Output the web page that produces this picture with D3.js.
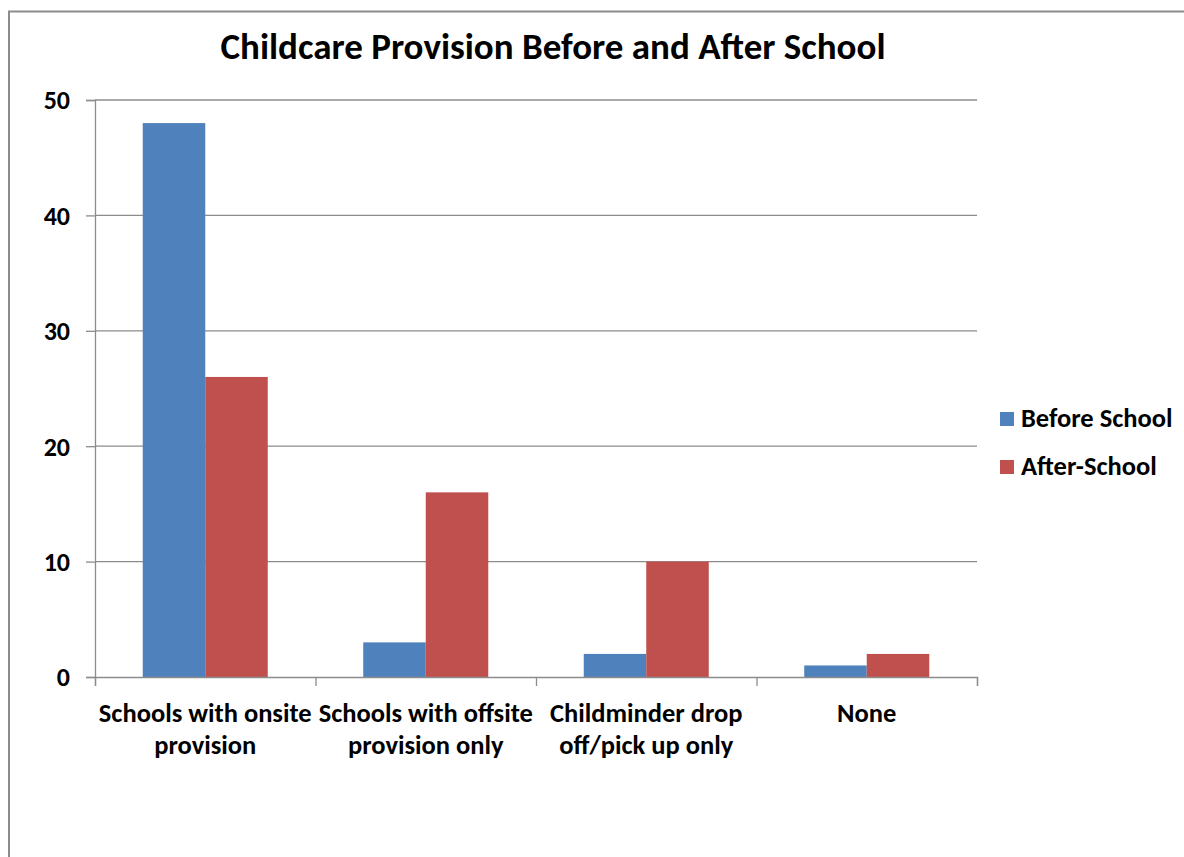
<!DOCTYPE html>
<html>
<head>
<meta charset="utf-8">
<script src="https://cdn.jsdelivr.net/npm/d3@7"></script>
<style>
  html, body { margin: 0; padding: 0; background: #fff; }
  svg { display: block; }
  text { font-family: Carlito, Calibri, Lato, "Open Sans", sans-serif; font-weight: bold; fill: #000; }
</style>
</head>
<body>
<svg id="chart" width="1184" height="857"></svg>
<script>
// Categories and series
const categories = [
  ["Schools with onsite", "provision"],
  ["Schools with offsite", "provision only"],
  ["Childminder drop", "off/pick up only"],
  ["None"]
];
const seriesNames = ["Before School", "After-School"];
const beforeSchool = [48, 3, 2, 1];
const afterSchool = [26, 16, 10, 2];
const yTicks = [0, 10, 20, 30, 40, 50];
const colors = ["#4F81BD", "#C0504D"];

const svg = d3.select("#chart");

// Outer chart frame (continues past the page edge)
svg.append("rect")
  .attr("x", 9).attr("y", 11.5)
  .attr("width", 1200).attr("height", 900)
  .attr("fill", "#fff").attr("stroke", "#8c8c8c").attr("stroke-width", 2);

const plot = { left: 95, right: 977, top: 100, bottom: 677 };

const x = d3.scaleBand()
  .domain(d3.range(categories.length))
  .range([plot.left, plot.right])
  .paddingInner(0.433).paddingOuter(0.2165);

const xs = d3.scaleBand().domain([0, 1]).range([0, x.bandwidth()]);

const y = d3.scaleLinear().domain([0, 50]).range([plot.bottom, plot.top]);

// Gridlines
svg.append("g").selectAll("line").data(yTicks.filter(d => d > 0)).join("line")
  .attr("x1", plot.left).attr("x2", plot.right)
  .attr("y1", d => y(d)).attr("y2", d => y(d))
  .attr("stroke", "#8c8c8c").attr("stroke-width", 1.3);

// Bars
const data = categories.map((c, i) => [beforeSchool[i], afterSchool[i]]);
const groups = svg.append("g").selectAll("g").data(data).join("g")
  .attr("transform", (d, i) => `translate(${x(i)},0)`);
groups.selectAll("rect").data(d => d).join("rect")
  .attr("x", (d, j) => xs(j))
  .attr("y", d => y(d))
  .attr("width", xs.bandwidth())
  .attr("height", d => y(0) - y(d))
  .attr("fill", (d, j) => colors[j]);

// Y axis
const yAxis = d3.axisLeft(y).tickValues(yTicks).tickSize(9).tickFormat(d3.format("d"));
const yg = svg.append("g").attr("transform", `translate(${plot.left},0)`).call(yAxis);
yg.select(".domain").attr("stroke", "#8c8c8c").attr("stroke-width", 1.3);
yg.selectAll(".tick line").attr("stroke", "#8c8c8c").attr("stroke-width", 1.3);
yg.selectAll(".tick text")
  .attr("x", -25)
  .attr("dy", "0.34em")
  .style("font-family", "Carlito, Calibri, Lato, sans-serif")
  .style("font-weight", "bold")
  .style("font-size", "26px")
  .attr("fill", "#000");

// X axis with ticks at category boundaries
const xb = d3.scaleLinear().domain([0, categories.length]).range([plot.left, plot.right]);
const xAxis = d3.axisBottom(xb).tickValues(d3.range(categories.length + 1)).tickSize(9).tickFormat("");
const xg = svg.append("g").attr("transform", `translate(0,${plot.bottom})`).call(xAxis);
xg.select(".domain").attr("stroke", "#8c8c8c").attr("stroke-width", 1.3);
xg.selectAll(".tick line").attr("stroke", "#8c8c8c").attr("stroke-width", 1.3);

// Category labels
const labels = svg.append("g").selectAll("text").data(categories).join("text")
  .attr("x", (d, i) => xb(i + 0.5))
  .attr("y", 722)
  .attr("text-anchor", "middle")
  .style("font-size", "26.5px");
labels.selectAll("tspan").data(d => d).join("tspan")
  .attr("x", function() { return d3.select(this.parentNode).attr("x"); })
  .attr("dy", (d, k) => k === 0 ? 0 : 32)
  .text(d => d);

// Title
svg.append("text")
  .attr("x", 553).attr("y", 59)
  .attr("text-anchor", "middle")
  .style("font-size", "37px")
  .text("Childcare Provision Before and After School");

// Legend
const legend = svg.append("g").selectAll("g").data(seriesNames).join("g")
  .attr("transform", (d, i) => `translate(1000,${412 + i * 48})`);
legend.append("rect").attr("width", 14).attr("height", 14).attr("fill", (d, i) => colors[i]);
legend.append("text").attr("x", 21).attr("y", 15).style("font-size", "26.5px").text(d => d);
</script>
</body>
</html>
